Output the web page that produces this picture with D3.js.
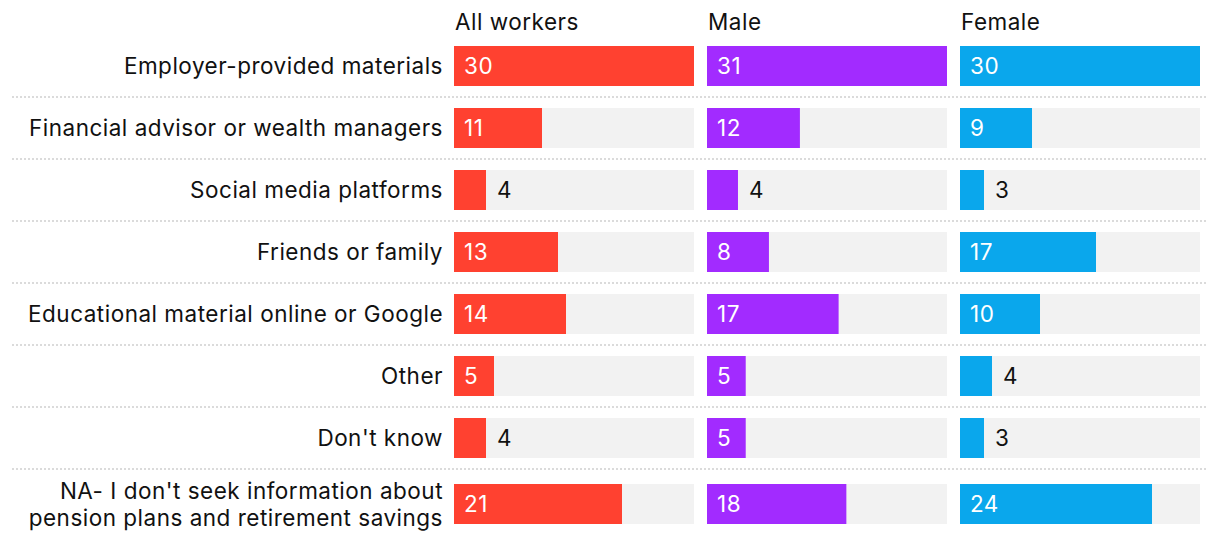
<!DOCTYPE html>
<html><head><meta charset="utf-8">
<script src="https://cdn.jsdelivr.net/npm/d3@7"></script>
<style>body{margin:0;background:#fff;}text{font-family:Inter,"Noto Sans",sans-serif;letter-spacing:0.5px;}</style>
</head><body><svg id="c" width="1220" height="548"></svg>
<script>
const categories = ["Employer-provided materials","Financial advisor or wealth managers","Social media platforms","Friends or family","Educational material online or Google","Other","Don't know","NA- I don't seek information about|pension plans and retirement savings"];
const seriesNames = ["All workers","Male","Female"];
const allWorkers = [30,11,4,13,14,5,4,21];
const male = [31,12,4,8,17,5,5,18];
const female = [30,9,3,17,10,4,3,24];
const colors = ["#FF4130","#A22BFF","#0AA7EC"];
const values = [allWorkers, male, female];

const svg = d3.select("#c");
const panelX = d3.scaleBand().domain(seriesNames).range([454, 1200]).paddingInner(0.0514);
const rowH = categories.map((c,i)=> i===categories.length-1 ? 70 : 62);
const rowTop = []; let acc = 35;
rowH.forEach((h,i)=>{rowTop.push(acc); acc+=h;});
const y = i => rowTop[i] + rowH[i]/2;
const barH = 40;
const fs = 22.5;

for(let i=1;i<categories.length;i++){
  svg.append("line").attr("x1",12).attr("x2",1208).attr("y1",rowTop[i]).attr("y2",rowTop[i])
    .attr("stroke","#cfcfcf").attr("stroke-width",1.5).attr("stroke-dasharray","2,2");
}
categories.forEach((c,i)=>{
  const lines = c.split("|");
  const t = svg.append("text").attr("x",443).attr("text-anchor","end").attr("font-size",fs).attr("fill","#111");
  lines.forEach((l,j)=>{
    t.append("tspan").attr("x",443).attr("y", y(i) + 8 + (j - (lines.length-1)/2)*27).text(l);
  });
});

seriesNames.forEach((s,k)=>{
  const x0 = panelX(s), w = panelX.bandwidth();
  const vals = values[k];
  const x = d3.scaleLinear().domain([0, d3.max(vals)]).range([x0, x0+w]);
  svg.append("text").attr("x",x0+1).attr("y",30).attr("font-size",fs).attr("fill","#111").text(s);
  const g = svg.append("g");
  g.selectAll("rect.bg").data(vals).join("rect").attr("class","bg")
    .attr("x",x0).attr("width",w).attr("y",(d,i)=>y(i)-barH/2).attr("height",barH).attr("fill","#F2F2F2");
  g.selectAll("rect.bar").data(vals).join("rect").attr("class","bar")
    .attr("x",x0).attr("width",d=>x(d)-x0).attr("y",(d,i)=>y(i)-barH/2).attr("height",barH).attr("fill",colors[k]);
  g.selectAll("text.v").data(vals).join("text").attr("class","v")
    .attr("x",d=> (x(d)-x0) > 36 ? x0+10 : x(d)+11)
    .attr("y",(d,i)=>y(i)+8).attr("font-size",fs)
    .attr("fill",d=> (x(d)-x0) > 36 ? "#fff" : "#111").text(d=>d);
});
</script></body></html>
